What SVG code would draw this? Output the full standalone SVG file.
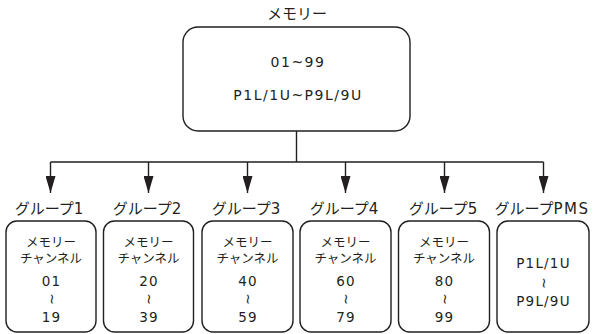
<svg xmlns="http://www.w3.org/2000/svg" width="594" height="334" viewBox="0 0 594 334">
<defs>
<style>
.box{fill:#fff;stroke:#231f20;stroke-width:1.4}
.ln{fill:none;stroke:#231f20;stroke-width:1.4}
.t{font-family:"DejaVu Sans","Noto Sans CJK JP",sans-serif;fill:#231f20;text-anchor:middle}
.h{font-size:15px}
.s{font-size:12.5px}
.m{font-size:14px;letter-spacing:1.5px}
.d{font-size:13.5px;letter-spacing:1.2px}
.w{font-family:"DejaVu Sans",sans-serif;font-size:14px;fill:#231f20;text-anchor:middle}
</style>
<marker id="a" viewBox="0 0 17 10" refX="17" refY="5" markerWidth="17" markerHeight="10" markerUnits="userSpaceOnUse" orient="auto">
<path d="M0,0 L17,5 L0,10 Z" fill="#231f20"/>
</marker>
</defs>
<g id="connectors">
<path class="ln" d="M296.5,131 V162 M50.5,162 H543.5"/>
<path class="ln" d="M50.5,162 V193" marker-end="url(#a)"/>
<path class="ln" d="M148.5,162 V193" marker-end="url(#a)"/>
<path class="ln" d="M247.5,162 V193" marker-end="url(#a)"/>
<path class="ln" d="M345.5,162 V193" marker-end="url(#a)"/>
<path class="ln" d="M444.5,162 V193" marker-end="url(#a)"/>
<path class="ln" d="M543.5,162 V193" marker-end="url(#a)"/>
</g>
<g id="memory">
<text class="t h" x="297" y="19">メモリー</text>
<rect class="box" x="183" y="27" width="227" height="104" rx="15"/>
<text class="t m" x="298" y="67">01~99</text>
<text class="t m" x="298" y="100">P1L/1U~P9L/9U</text>
</g>
<g id="group1">
<text class="t h" x="49" y="214">グループ1</text>
<rect class="box" x="6" y="221" width="90" height="111" rx="11"/>
<text class="t s" x="51" y="247">メモリー</text>
<text class="t s" x="51" y="263">チャンネル</text>
<text class="t d" x="51.5" y="286">01</text>
<text class="w" transform="translate(51,299) rotate(90)" y="4.5">~</text>
<text class="t d" x="51.5" y="322">19</text>
</g>
<g id="group2">
<text class="t h" x="147" y="214">グループ2</text>
<rect class="box" x="103.5" y="221" width="90" height="111" rx="11"/>
<text class="t s" x="148.5" y="247">メモリー</text>
<text class="t s" x="148.5" y="263">チャンネル</text>
<text class="t d" x="149" y="286">20</text>
<text class="w" transform="translate(148.5,299) rotate(90)" y="4.5">~</text>
<text class="t d" x="149" y="322">39</text>
</g>
<g id="group3">
<text class="t h" x="246" y="214">グループ3</text>
<rect class="box" x="202" y="221" width="91" height="111" rx="11"/>
<text class="t s" x="247.5" y="247">メモリー</text>
<text class="t s" x="247.5" y="263">チャンネル</text>
<text class="t d" x="248" y="286">40</text>
<text class="w" transform="translate(247.5,299) rotate(90)" y="4.5">~</text>
<text class="t d" x="248" y="322">59</text>
</g>
<g id="group4">
<text class="t h" x="344" y="214">グループ4</text>
<rect class="box" x="300" y="221" width="91" height="111" rx="11"/>
<text class="t s" x="345.5" y="247">メモリー</text>
<text class="t s" x="345.5" y="263">チャンネル</text>
<text class="t d" x="346" y="286">60</text>
<text class="w" transform="translate(345.5,299) rotate(90)" y="4.5">~</text>
<text class="t d" x="346" y="322">79</text>
</g>
<g id="group5">
<text class="t h" x="443" y="214">グループ5</text>
<rect class="box" x="398.5" y="221" width="91" height="111" rx="11"/>
<text class="t s" x="444" y="247">メモリー</text>
<text class="t s" x="444" y="263">チャンネル</text>
<text class="t d" x="444.5" y="286">80</text>
<text class="w" transform="translate(444,299) rotate(90)" y="4.5">~</text>
<text class="t d" x="444.5" y="322">99</text>
</g>
<g id="groupPMS">
<text class="t h" x="542" y="214">グループ<tspan letter-spacing="1.5">PMS</tspan></text>
<rect class="box" x="497" y="221" width="92" height="111" rx="11"/>
<text class="t d" x="543.5" y="268">P1L/1U</text>
<text class="w" transform="translate(543,283) rotate(90)" y="4.5">~</text>
<text class="t d" x="543.5" y="306">P9L/9U</text>
</g>
</svg>
